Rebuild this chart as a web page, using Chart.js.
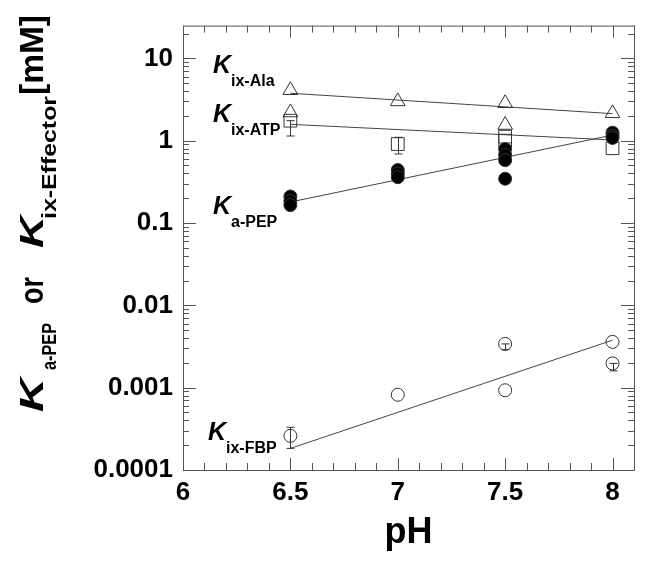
<!DOCTYPE html>
<html>
<head>
<meta charset="utf-8">
<script src="https://cdn.jsdelivr.net/npm/chart.js@4"></script>
<style>
  body { margin: 0; background: #fff; }
  #wrap { width: 654px; height: 562px; }
</style>
</head>
<body>
<div id="wrap"><canvas id="myChart" width="654" height="562"></canvas></div>
<script>
// values (pH vs constant in mM)
const xTicks = [6, 6.5, 7, 7.5, 8];
const yTicks = [0.0001, 0.001, 0.01, 0.1, 1, 10];

const alaPH = [6.5, 6.5, 7, 7.5, 7.5, 8];
const alaK = [4.1, 2.2, 3.0, 2.85, 1.55, 2.15];

const atpPH = [6.5, 7, 7.5, 7.5, 8];
const atpK = [1.75, 0.91, 1.12, 1.0, 0.81];

const pepPH = [6.5, 6.5, 6.5, 7, 7, 7, 7.5, 7.5, 7.5, 7.5, 8, 8, 8];
const pepK = [0.21, 0.185, 0.165, 0.44, 0.40, 0.36, 0.79, 0.67, 0.58, 0.345, 1.25, 1.15, 1.08];

const fbpPH = [6.5, 7, 7.5, 7.5, 8, 8];
const fbpK = [0.00026, 0.00082, 0.0034, 0.00093, 0.0036, 0.00197];

// fitted lines, endpoints only
const fitPH = [6.5, 8];
const alaFit = [3.77, 2.13];
const atpFit = [1.58, 1.02];
const pepFit = [0.18, 1.17];
const fbpFit = [0.000183, 0.00377];

// error bars
const errPH = [6.5, 7, 6.5, 7.5, 8];
const errLo = [1.14, 0.69, 0.000183, 0.0029, 0.0016];
const errHi = [1.75, 1.1, 0.00033, 0.0034, 0.00197];

const FONT = '"Liberation Sans", Arial, sans-serif';

function pts(xs, ys) {
  return xs.map((x, i) => ({ x: x, y: ys[i] }));
}

function pointSet(xs, ys, style, filled, r) {
  return {
    data: pts(xs, ys),
    showLine: false,
    pointStyle: style,
    pointRadius: r,
    pointBorderWidth: 1,
    pointBorderColor: '#333',
    pointBackgroundColor: filled ? '#000' : 'rgba(0,0,0,0)'
  };
}

function fitSet(ys) {
  return {
    data: pts(fitPH, ys),
    showLine: true,
    borderColor: '#444',
    borderWidth: 1,
    pointRadius: 0
  };
}

// draw text squeezed/stretched to a given width
function fitText(ctx, str, x, y, w) {
  const m = ctx.measureText(str).width;
  ctx.save();
  ctx.translate(x, y);
  ctx.scale(w / m, 1);
  ctx.fillText(str, 0, 0);
  ctx.restore();
}

// ticks inside, frame, error bars
const framePlugin = {
  id: 'frame',
  beforeDatasetsDraw(chart) {
    const ctx = chart.ctx;
    const a = chart.chartArea;
    const xs = chart.scales.x;
    const ys = chart.scales.y;
    ctx.save();
    ctx.strokeStyle = '#555';
    ctx.lineWidth = 1;
    ctx.strokeRect(a.left + 0.5, a.top + 0.5, a.right - a.left, a.bottom - a.top);
    ctx.beginPath();
    // x ticks every 0.1, long at 0.5
    for (let i = 60; i <= 81; i++) {
      const v = i / 10;
      const px = Math.round(xs.getPixelForValue(v)) + 0.5;
      const len = (i % 5 === 0) ? 12 : 7;
      ctx.moveTo(px, a.bottom); ctx.lineTo(px, a.bottom - len);
      ctx.moveTo(px, a.top); ctx.lineTo(px, a.top + len);
    }
    // y ticks, decades long, 2..9 short
    for (let d = -4; d <= 1; d++) {
      for (let m = 1; m <= 9; m++) {
        const v = m * Math.pow(10, d);
        if (v > ys.max) break;
        const py = Math.round(ys.getPixelForValue(v)) + 0.5;
        const len = (m === 1) ? 13 : 6;
        ctx.moveTo(a.left, py); ctx.lineTo(a.left + len, py);
        ctx.moveTo(a.right, py); ctx.lineTo(a.right - len, py);
      }
    }
    ctx.stroke();

    // error bars
    ctx.strokeStyle = '#333';
    ctx.beginPath();
    errPH.forEach((x, i) => {
      const px = Math.round(xs.getPixelForValue(x)) + 0.5;
      const p1 = ys.getPixelForValue(errLo[i]);
      const p2 = ys.getPixelForValue(errHi[i]);
      ctx.moveTo(px, p1); ctx.lineTo(px, p2);
      ctx.moveTo(px - 4, p1); ctx.lineTo(px + 4, p1);
      ctx.moveTo(px - 4, p2); ctx.lineTo(px + 4, p2);
    });
    ctx.stroke();
    ctx.restore();
  },
  afterDraw(chart) {
    const ctx = chart.ctx;
    ctx.save();
    ctx.fillStyle = '#000';
    ctx.textBaseline = 'alphabetic';
    ctx.textAlign = 'left';
    // curve labels
    const labels = [
      ['ix-Ala', 213, 73],
      ['ix-ATP', 213, 122],
      ['a-PEP', 213, 214],
      ['ix-FBP', 208, 440]
    ];
    labels.forEach((l) => {
      ctx.font = 'italic bold 25px ' + FONT;
      ctx.fillText('K', l[1], l[2]);
      ctx.font = 'bold 16px ' + FONT;
      ctx.fillText(l[0], l[1] + 18, l[2] + 13);
    });

    // x title
    ctx.textAlign = 'center';
    ctx.font = 'bold 36px ' + FONT;
    ctx.fillText('pH', (chart.chartArea.left + chart.chartArea.right) / 2, 543);

    // y title, rotated; [text, font, offset along, offset across, width]
    ctx.translate(43, 412);
    ctx.rotate(-Math.PI / 2);
    ctx.textAlign = 'left';
    const big = 'bold 33px ' + FONT;
    const kFont = 'italic bold 33px ' + FONT;
    const sub = 'bold 21px ' + FONT;
    const parts = [
      ['K', kFont, 0, 0, 34],
      ['a-PEP', sub, 42, 13, 47],
      ['or', big, 108, 0, 27],
      ['K', kFont, 164, 0, 32],
      ['ix-Effector', sub, 193, 13, 123],
      ['[mM]', big, 317, 0, 80]
    ];
    parts.forEach((p) => {
      ctx.font = p[1];
      fitText(ctx, p[0], p[2], p[3], p[4]);
    });
    ctx.restore();
  }
};

function mainEvent() {
  const target = document.querySelector('#myChart');
  const chart = new Chart(target, {
    type: 'scatter',
    data: {
      datasets: [
        pointSet(pepPH, pepK, 'circle', true, 6.5),
        pointSet(atpPH, atpK, 'rect', false, 9),
        pointSet(alaPH, alaK, 'triangle', false, 8.5),
        pointSet(fbpPH, fbpK, 'circle', false, 6.5),
        fitSet(alaFit),
        fitSet(atpFit),
        fitSet(pepFit),
        fitSet(fbpFit)
      ]
    },
    options: {
      responsive: false,
      animation: false,
      layout: { padding: { top: 21, right: 20, left: 0, bottom: 0 } },
      plugins: { legend: { display: false }, tooltip: { enabled: false } },
      scales: {
        x: {
          type: 'linear',
          min: 6,
          max: 8.1,
          afterBuildTicks: (axis) => { axis.ticks = xTicks.map((v) => ({ value: v })); },
          afterFit: (axis) => { axis.height = 92; },
          grid: { display: false, drawTicks: false },
          border: { display: false },
          ticks: {
            padding: 7,
            color: '#000',
            maxRotation: 0,
            font: { family: FONT, size: 26, weight: 'bold' },
            callback: (v) => String(v)
          }
        },
        y: {
          type: 'logarithmic',
          min: 0.0001,
          max: 25,
          afterBuildTicks: (axis) => { axis.ticks = yTicks.map((v) => ({ value: v })); },
          afterFit: (axis) => { axis.width = 183; },
          grid: { display: false, drawTicks: false },
          border: { display: false },
          ticks: {
            padding: 10,
            color: '#000',
            font: { family: FONT, size: 26, weight: 'bold' },
            callback: (v) => String(v)
          }
        }
      }
    },
    plugins: [framePlugin]
  });
  return chart;
}

document.addEventListener('DOMContentLoaded', () => mainEvent());
</script>
</body>
</html>
